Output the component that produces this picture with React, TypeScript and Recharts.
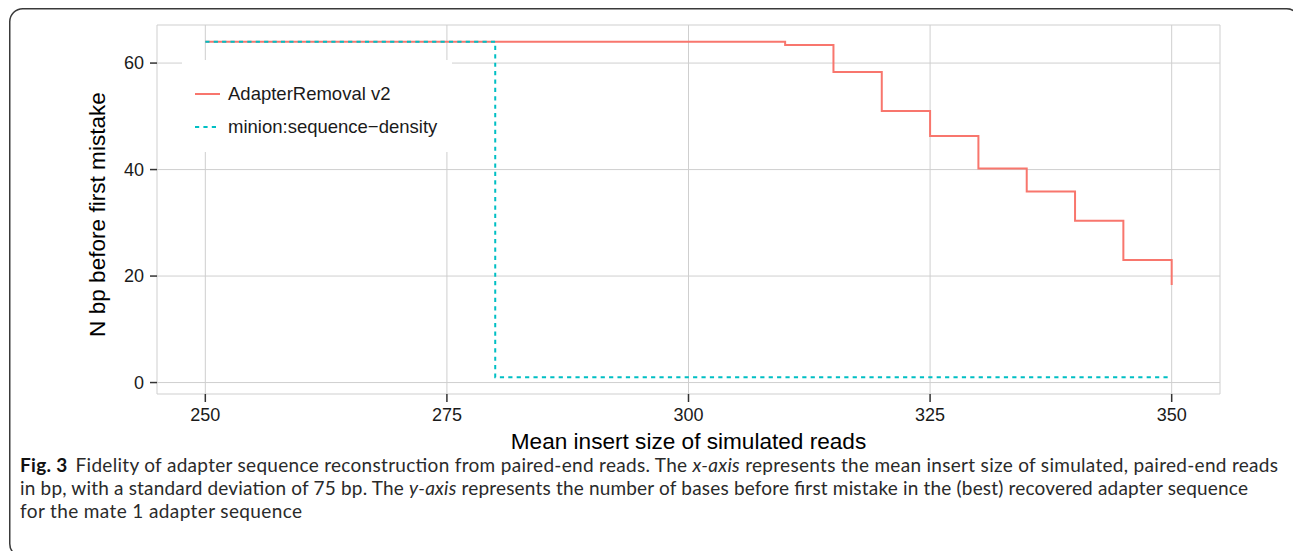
import React from 'react';
import { LineChart, Line, XAxis, YAxis, CartesianGrid, Legend, Label } from 'recharts';

const insertSizes = [250, 255, 260, 265, 270, 275, 280, 285, 290, 295, 300, 305, 310, 315, 320, 325, 330, 335, 340, 345, 350];
const adapterRemovalV2 = [64, 64, 64, 64, 64, 64, 64, 64, 64, 64, 64, 64, 63.4, 58.3, 51.0, 46.3, 40.2, 35.9, 30.4, 23.0, 18.3];
const minionSequenceDensity = [64, 64, 64, 64, 64, 64, 1, 1, 1, 1, 1, 1, 1, 1, 1, 1, 1, 1, 1, 1, 1];
const xTicks = [250, 275, 300, 325, 350];
const yTicks = [0, 20, 40, 60];
const seriesNames = ['AdapterRemoval v2', 'minion:sequence\u2212density'];
const seriesColors = ['#F8766D', '#00BFC4'];
const seriesDash = [undefined, '4.2 4.2'];
const xTitle = 'Mean insert size of simulated reads';
const yTitle = 'N bp before first mistake';
const captionLine1 = ['Fig. 3', 'Fidelity of adapter sequence reconstruction from paired-end reads. The ', 'x-axis', ' represents the mean insert size of simulated, paired-end reads'];
const captionLine2 = ['in bp, with a standard deviation of 75 bp. The ', 'y-axis', ' represents the number of bases before first mistake in the (best) recovered adapter sequence'];
const captionLine3 = 'for the mate 1 adapter sequence';

const rows = insertSizes.map((x, i) => ({ x, ar: adapterRemovalV2[i], minion: minionSequenceDensity[i] }));

const FONT = '"Liberation Sans", Arial, Helvetica, sans-serif';
const CAP_FONT = 'Lato, "Open Sans", sans-serif';

const renderLegend = () => (
  <div style={{ width: 270, height: 92, background: '#fff', position: 'relative', fontFamily: FONT, fontSize: 18.5, color: '#1a1a1a' }}>
    {seriesNames.map((name, i) => (
      <div key={name} style={{ position: 'absolute', left: 0, top: 18.3 + i * 32.4, height: 32, display: 'flex', alignItems: 'center', whiteSpace: 'nowrap' }}>
        <svg width={46} height={32} style={{ display: 'block' }}>
          <line x1={13} x2={38} y1={16} y2={16} stroke={seriesColors[i]} strokeWidth={2} strokeDasharray={seriesDash[i]} />
        </svg>
        <span style={{ lineHeight: '32px' }}>{name}</span>
      </div>
    ))}
  </div>
);

const YTitle = (props: any) => {
  const vb = props.viewBox || { x: 97, y: 25, width: 60, height: 369 };
  const cx = vb.x + 8;
  const cy = vb.y + vb.height / 2 + 5;
  return (
    <text x={0} y={0} transform={`translate(${cx},${cy}) rotate(-90)`} textAnchor="middle" fontSize={22.6} fill="#000" fontFamily={FONT}>
      {yTitle}
    </text>
  );
};

export default function App() {
  return (
    <div style={{ position: 'fixed', left: 0, top: 0, width: 1293, height: 551, overflow: 'hidden', background: '#fff' }}>
      <div style={{ position: 'absolute', left: 0, top: 0 }}>
        <LineChart
          width={1293}
          height={551}
          data={rows}
          margin={{ top: 25, right: 73, bottom: 127, left: 97 }}
          style={{ fontFamily: FONT }}
        >
          <CartesianGrid stroke="#cfcfcf" strokeWidth={1} />
          <XAxis
            dataKey="x"
            type="number"
            domain={[245, 355]}
            ticks={xTicks}
            allowDataOverflow
            axisLine={false}
            tickLine={{ stroke: '#333', strokeWidth: 1.5 }}
            tickSize={8}
            tickMargin={6}
            height={30}
            tick={{ fill: '#1a1a1a', fontSize: 18, fontFamily: FONT }}
          >
            <Label value={xTitle} position="bottom" offset={9} style={{ fontSize: 22.6, fill: '#000', fontFamily: FONT }} />
          </XAxis>
          <YAxis
            type="number"
            domain={[-2.15, 67.15]}
            ticks={yTicks}
            allowDataOverflow
            axisLine={false}
            tickLine={{ stroke: '#333', strokeWidth: 1.5 }}
            tickSize={7}
            tickMargin={6}
            width={60}
            tick={{ fill: '#1a1a1a', fontSize: 18, fontFamily: FONT }}
          >
            <Label content={<YTitle />} />
          </YAxis>
          <Legend
            layout="horizontal"
            verticalAlign="middle"
            align="center"
            content={renderLegend}
            wrapperStyle={{ left: 182, top: 60, width: 270, height: 92, backgroundColor: '#fff' }}
          />
          <Line
            dataKey="ar"
            name={seriesNames[0]}
            type="stepAfter"
            stroke={seriesColors[0]}
            strokeWidth={2}
            dot={false}
            activeDot={false}
            isAnimationActive={false}
          />
          <Line
            dataKey="minion"
            name={seriesNames[1]}
            type="stepAfter"
            stroke={seriesColors[1]}
            strokeWidth={2}
            strokeDasharray={seriesDash[1]}
            dot={false}
            activeDot={false}
            isAnimationActive={false}
          />
        </LineChart>
      </div>
      <svg width={1293} height={551} style={{ position: 'absolute', left: 0, top: 0, pointerEvents: 'none' }}>
        <rect x={9.75} y={8.75} width={1290} height={548} rx={13} ry={13} fill="none" stroke="#3a3a3a" strokeWidth={1.5} />
        <text x={20} y={472} fontSize={19} fontFamily={CAP_FONT} fill="#2a2a2a" textLength={1258} lengthAdjust="spacing">
          <tspan fontWeight="bold" fill="#111">{captionLine1[0]}</tspan>
          <tspan dx={8}>{captionLine1[1]}</tspan>
          <tspan fontStyle="italic">{captionLine1[2]}</tspan>
          <tspan>{captionLine1[3]}</tspan>
        </text>
        <text x={20} y={495} fontSize={19} fontFamily={CAP_FONT} fill="#2a2a2a" textLength={1228} lengthAdjust="spacing">
          <tspan>{captionLine2[0]}</tspan>
          <tspan fontStyle="italic">{captionLine2[1]}</tspan>
          <tspan>{captionLine2[2]}</tspan>
        </text>
        <text x={20} y={518} fontSize={19} fontFamily={CAP_FONT} fill="#2a2a2a" textLength={282} lengthAdjust="spacing">
          {captionLine3}
        </text>
      </svg>
    </div>
  );
}
